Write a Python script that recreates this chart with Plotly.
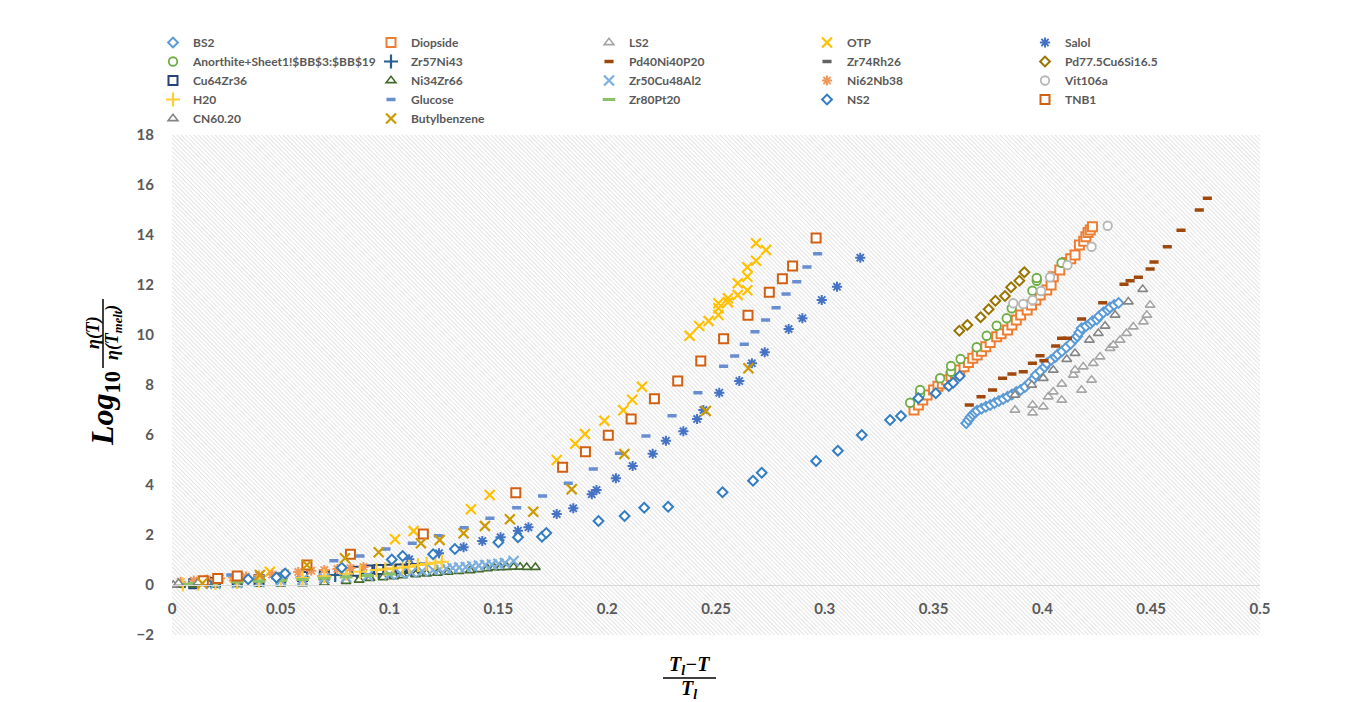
import base64
import plotly.graph_objects as go

# ---------------- data ----------------
bs2_x = [0.365, 0.366, 0.367, 0.368, 0.369, 0.370, 0.372, 0.374, 0.376, 0.378, 0.380, 0.382, 0.384, 0.386,
         0.388, 0.390, 0.392, 0.394, 0.396, 0.397, 0.399, 0.401, 0.402, 0.404, 0.406, 0.407, 0.409, 0.411,
         0.413, 0.415, 0.416, 0.417, 0.418, 0.420, 0.422, 0.423, 0.425, 0.426, 0.428, 0.430, 0.431, 0.433, 0.435]
bs2_y = [6.47, 6.6, 6.72, 6.82, 6.9, 6.97, 7.05, 7.13, 7.2, 7.28, 7.36, 7.44, 7.53, 7.62,
         7.72, 7.8, 7.92, 8.08, 8.25, 8.4, 8.55, 8.72, 8.87, 9.0, 9.12, 9.22, 9.35, 9.5,
         9.65, 9.85, 9.95, 10.1, 10.27, 10.35, 10.45, 10.55, 10.62, 10.75, 10.9, 11.0, 11.1, 11.2, 11.28]

diopside_x = [0.341, 0.343, 0.345, 0.347, 0.350, 0.352, 0.354, 0.356, 0.358, 0.360, 0.362, 0.364, 0.366, 0.368,
              0.370, 0.372, 0.374, 0.376, 0.379, 0.381, 0.384, 0.386, 0.388, 0.390, 0.393, 0.395, 0.397, 0.399,
              0.402, 0.404, 0.405, 0.408, 0.411, 0.413, 0.415, 0.417, 0.419, 0.420, 0.421, 0.422, 0.423]
diopside_y = [7.0, 7.2, 7.4, 7.6, 7.8, 7.95, 8.05, 8.2, 8.35, 8.45, 8.6, 8.73, 8.9, 9.07,
              9.2, 9.35, 9.53, 9.7, 9.93, 10.05, 10.2, 10.4, 10.6, 10.8, 11.0, 11.2, 11.4, 11.6,
              11.8, 12.0, 12.33, 12.6, 12.9, 13.05, 13.2, 13.6, 13.75, 13.93, 14.1, 14.2, 14.33]

ls2_x = [0.3874, 0.3955, 0.3955, 0.4004, 0.4027, 0.405, 0.4089, 0.4089, 0.4142, 0.418, 0.415, 0.4188,
         0.4226, 0.4234, 0.4265, 0.4311, 0.4326, 0.4357, 0.4387, 0.4418, 0.4464, 0.448, 0.4495]
ls2_y = [7.0, 6.89, 7.2, 7.13, 7.53, 7.73, 7.4, 8.04, 8.4, 7.8, 8.6, 8.73,
         8.2, 8.87, 9.13, 9.47, 9.6, 9.8, 10.07, 10.33, 10.53, 10.8, 11.2]

otp_x = [0.045, 0.1025, 0.111, 0.1374, 0.146, 0.1768, 0.1853, 0.1898, 0.1987, 0.2074, 0.2115, 0.216,
         0.2379, 0.2423, 0.2466, 0.2511, 0.2511, 0.2511, 0.2555, 0.2555, 0.26, 0.26, 0.2644, 0.2644,
         0.2644, 0.2684, 0.2684, 0.273]
otp_y = [0.53, 1.83, 2.16, 3.03, 3.6, 5.0, 5.65, 6.04, 6.57, 6.99, 7.41, 7.93,
         9.97, 10.36, 10.56, 10.8, 11.07, 11.27, 11.31, 11.47, 11.6, 12.07, 11.79, 12.33,
         12.71, 12.97, 13.67, 13.4]

salol_x = [0.109, 0.1227, 0.134, 0.1426, 0.151, 0.159, 0.1638, 0.1768, 0.1844, 0.1929, 0.1951, 0.204,
           0.2117, 0.2209, 0.227, 0.235, 0.2413, 0.2442, 0.2515, 0.2607, 0.2665, 0.2724, 0.2834, 0.2897,
           0.2986, 0.3056, 0.3163]
salol_y = [1.03, 1.27, 1.51, 1.76, 1.91, 2.17, 2.31, 2.84, 3.07, 3.63, 3.8, 4.27,
           4.76, 5.25, 5.77, 6.15, 6.64, 7.0, 7.69, 8.16, 8.87, 9.31, 10.24, 10.67,
           11.4, 11.93, 13.09]

anorthite_x = [0.3392, 0.3438, 0.3438, 0.353, 0.358, 0.358, 0.3624, 0.3698, 0.3744, 0.379, 0.3836, 0.3859,
               0.3954, 0.3974, 0.3974, 0.4088]
anorthite_y = [7.29, 7.64, 7.8, 8.27, 8.53, 8.76, 9.04, 9.51, 9.97, 10.37, 10.67, 11.07,
               11.77, 12.17, 12.28, 12.89]

zr57ni43_x = [0.03, 0.04, 0.05, 0.06, 0.07, 0.075, 0.08, 0.085, 0.09, 0.095, 0.1, 0.105, 0.11]
zr57ni43_y = [0.15, 0.2, 0.25, 0.3, 0.35, 0.4, 0.43, 0.47, 0.5, 0.53, 0.56, 0.58, 0.6]

pd40_x = [0.3664, 0.3718, 0.3771, 0.3817, 0.386, 0.3912, 0.3954, 0.3989, 0.4007, 0.4061, 0.4088, 0.4115,
          0.418, 0.4277, 0.4375, 0.4403, 0.4441, 0.4495, 0.4513, 0.4574, 0.4637, 0.4721, 0.4758]
pd40_y = [7.2, 7.53, 7.8, 8.27, 8.44, 8.53, 8.87, 9.17, 8.97, 9.56, 9.87, 9.87,
          10.64, 11.29, 12.03, 12.17, 12.31, 12.64, 12.92, 13.53, 14.19, 15.0, 15.47]

zr74rh26_x = [0.04, 0.05, 0.06, 0.07, 0.08, 0.09]
zr74rh26_y = [0.22, 0.27, 0.33, 0.38, 0.44, 0.5]

pd77_x = [0.3618, 0.3655, 0.3716, 0.3753, 0.3784, 0.3828, 0.3856, 0.3894, 0.3917]
pd77_y = [10.17, 10.4, 10.71, 11.03, 11.37, 11.56, 11.91, 12.17, 12.51]

cu64zr36_x = [0.01, 0.02, 0.03, 0.04, 0.05, 0.06, 0.07, 0.08, 0.085, 0.09, 0.095, 0.1, 0.105, 0.11, 0.115]
cu64zr36_y = [0.05, 0.1, 0.16, 0.22, 0.28, 0.34, 0.4, 0.5, 0.55, 0.6, 0.62, 0.63, 0.64, 0.66, 0.68]

ni34zr66_x = [0.004, 0.01, 0.02, 0.03, 0.04, 0.05, 0.06, 0.07, 0.08, 0.086, 0.091, 0.097, 0.102, 0.106,
              0.112, 0.117, 0.122, 0.127, 0.132, 0.137, 0.141, 0.145, 0.148, 0.151, 0.154, 0.157, 0.16,
              0.163, 0.167]
ni34zr66_y = [0.0, 0.01, 0.02, 0.03, 0.04, 0.05, 0.06, 0.08, 0.15, 0.2, 0.27, 0.3, 0.34, 0.38,
              0.42, 0.45, 0.48, 0.52, 0.55, 0.58, 0.62, 0.66, 0.7, 0.7, 0.71, 0.72, 0.72,
              0.71, 0.71]

zr50cu48al2_x = [0.02, 0.03, 0.04, 0.05, 0.06, 0.07, 0.08, 0.09, 0.1, 0.105, 0.11, 0.115, 0.12, 0.123,
                 0.126, 0.129, 0.132, 0.135, 0.138, 0.141, 0.144, 0.147, 0.15, 0.153, 0.157]
zr50cu48al2_y = [0.05, 0.08, 0.12, 0.17, 0.22, 0.27, 0.32, 0.37, 0.42, 0.46, 0.5, 0.55, 0.6, 0.62,
                 0.65, 0.68, 0.7, 0.72, 0.75, 0.78, 0.8, 0.82, 0.85, 0.88, 0.96]

ni62nb38_x = [0.004, 0.01, 0.016, 0.022, 0.028, 0.034, 0.04, 0.046, 0.052, 0.058, 0.064, 0.07, 0.076,
              0.082, 0.088]
ni62nb38_y = [0.13, 0.18, 0.22, 0.26, 0.3, 0.34, 0.38, 0.42, 0.47, 0.52, 0.57, 0.6, 0.64, 0.68, 0.72]

vit106a_x = [0.3866, 0.3912, 0.3955, 0.3994, 0.4035, 0.4115, 0.4226, 0.43]
vit106a_y = [11.27, 11.24, 11.4, 11.76, 12.31, 12.8, 13.53, 14.37]

h20_x = [0.005, 0.012, 0.02, 0.03, 0.04, 0.05, 0.06, 0.07, 0.08, 0.0864, 0.094, 0.098, 0.1017, 0.106,
         0.109, 0.113, 0.117, 0.121, 0.124]
h20_y = [0.02, 0.05, 0.08, 0.12, 0.17, 0.22, 0.28, 0.35, 0.45, 0.53, 0.6, 0.63, 0.67, 0.7,
         0.73, 0.8, 0.84, 0.89, 0.93]

glucose_x = [0.027, 0.0744, 0.0864, 0.0983, 0.1104, 0.1224, 0.1343, 0.1461, 0.1584, 0.1703, 0.1821,
             0.1936, 0.2056, 0.2178, 0.2298, 0.2417, 0.2535, 0.2586, 0.263, 0.2679, 0.2728, 0.2776,
             0.2822, 0.2871, 0.2918, 0.2967]
glucose_y = [0.4, 0.97, 1.16, 1.44, 1.67, 1.97, 2.29, 2.67, 3.09, 3.56, 4.07,
             4.64, 5.27, 5.96, 6.77, 7.69, 8.75, 9.16, 9.63, 10.13, 10.6, 11.09,
             11.64, 12.13, 12.72, 13.25]

zr80pt20_x = [0.005, 0.01, 0.02, 0.03, 0.04, 0.05, 0.06, 0.07, 0.08, 0.09, 0.1]
zr80pt20_y = [0.03, 0.06, 0.09, 0.12, 0.15, 0.18, 0.22, 0.27, 0.32, 0.38, 0.44]

ns2_x = [0.016, 0.035, 0.048, 0.052, 0.078, 0.101, 0.106, 0.120, 0.130, 0.150, 0.159, 0.170, 0.172,
         0.196, 0.208, 0.217, 0.228, 0.253, 0.267, 0.271, 0.296, 0.306, 0.317, 0.330, 0.335, 0.343,
         0.351, 0.357, 0.359, 0.362]
ns2_y = [0.08, 0.23, 0.3, 0.46, 0.69, 1.02, 1.16, 1.23, 1.44, 1.71, 1.91, 1.93, 2.08,
         2.56, 2.76, 3.09, 3.13, 3.71, 4.17, 4.49, 4.96, 5.37, 6.0, 6.6, 6.76, 7.47,
         7.67, 7.96, 8.09, 8.36]

tnb1_x = [0.0144, 0.021, 0.030, 0.062, 0.082, 0.1155, 0.158, 0.1795, 0.190, 0.2005, 0.211, 0.2217,
          0.2324, 0.243, 0.2535, 0.2647, 0.2745, 0.2805, 0.2852, 0.296]
tnb1_y = [0.17, 0.26, 0.36, 0.8, 1.23, 2.04, 3.69, 4.71, 5.33, 5.99, 6.64, 7.45,
          8.16, 8.96, 9.85, 10.79, 11.71, 12.25, 12.76, 13.88]

cn60_x = [0.0006, 0.003, 0.012, 0.3874, 0.3951, 0.4004, 0.405, 0.4112, 0.415, 0.4216, 0.4257, 0.4288,
          0.4334, 0.4395, 0.4461]
cn60_y = [0.0, 0.07, 0.09, 7.6, 8.0, 8.27, 8.6, 9.03, 9.27, 9.8, 10.07, 10.36,
          10.8, 11.33, 11.83]

butyl_x = [0.014, 0.0404, 0.062, 0.0795, 0.095, 0.1144, 0.123, 0.134, 0.1438, 0.1553, 0.166, 0.1837,
           0.2079, 0.2453, 0.2649]
butyl_y = [0.07, 0.4, 0.8, 1.07, 1.31, 1.67, 1.8, 2.07, 2.36, 2.63, 2.93, 3.83,
           5.24, 6.96, 8.67]

series_names = ["BS2", "Diopside", "LS2", "OTP", "Salol",
                "Anorthite+Sheet1!$BB$3:$BB$19", "Zr57Ni43", "Pd40Ni40P20", "Zr74Rh26", "Pd77.5Cu6Si16.5",
                "Cu64Zr36", "Ni34Zr66", "Zr50Cu48Al2", "Ni62Nb38", "Vit106a",
                "H20", "Glucose", "Zr80Pt20", "NS2", "TNB1",
                "CN60.20", "Butylbenzene"]
series_x = [bs2_x, diopside_x, ls2_x, otp_x, salol_x,
            anorthite_x, zr57ni43_x, pd40_x, zr74rh26_x, pd77_x,
            cu64zr36_x, ni34zr66_x, zr50cu48al2_x, ni62nb38_x, vit106a_x,
            h20_x, glucose_x, zr80pt20_x, ns2_x, tnb1_x,
            cn60_x, butyl_x]
series_y = [bs2_y, diopside_y, ls2_y, otp_y, salol_y,
            anorthite_y, zr57ni43_y, pd40_y, zr74rh26_y, pd77_y,
            cu64zr36_y, ni34zr66_y, zr50cu48al2_y, ni62nb38_y, vit106a_y,
            h20_y, glucose_y, zr80pt20_y, ns2_y, tnb1_y,
            cn60_y, butyl_y]

# ---------------- styles ----------------
colors = ["#5B9BD5", "#ED7D31", "#A5A5A5", "#FFC000", "#4472C4",
          "#70AD47", "#255E91", "#9E480E", "#636363", "#997300",
          "#264478", "#43682B", "#7CAFDD", "#F1975A", "#B7B7B7",
          "#FFCD33", "#698ED0", "#8CC168", "#327DC2", "#D26012",
          "#848484", "#CC9A00"]
kinds = ["diamond", "square", "triangle", "x", "star",
         "circle", "plus", "dash", "dash", "diamond",
         "square", "triangle", "x", "star", "circle",
         "plus", "dash", "longdash", "diamond", "square",
         "triangle", "x"]


def marker_for(kind, c):
    if kind == "diamond":
        return dict(symbol="diamond", size=7.5, color="white", line=dict(color=c, width=2))
    if kind == "square":
        return dict(symbol="square", size=9, color="white", line=dict(color=c, width=2))
    if kind == "triangle":
        return dict(symbol="triangle-up", size=8.5, color="white", line=dict(color=c, width=1.6))
    if kind == "circle":
        return dict(symbol="circle", size=8.5, color="white", line=dict(color=c, width=1.8))
    if kind == "x":
        return dict(symbol="x-thin-open", size=10, color=c, line=dict(color=c, width=2.2))
    if kind == "plus":
        return dict(symbol="cross-thin-open", size=10, color=c, line=dict(color=c, width=2.2))
    if kind == "star":
        return dict(symbol="asterisk-open", size=8.5, color=c, line=dict(color=c, width=2))
    if kind == "dash":
        return dict(symbol="line-ew-open", size=6.5, color=c, line=dict(color=c, width=3.5))
    if kind == "longdash":
        return dict(symbol="line-ew-open", size=9, color=c, line=dict(color=c, width=3))


fig = go.Figure()
for name, xs, ys, c, k in zip(series_names, series_x, series_y, colors, kinds):
    fig.add_trace(go.Scatter(x=xs, y=ys, mode="markers", name=name, marker=marker_for(k, c)))

# hatched plot background
svg = ('<svg xmlns="http://www.w3.org/2000/svg" width="1088" height="500">'
       '<defs><pattern id="p" width="3" height="3" patternUnits="userSpaceOnUse" '
       'patternTransform="rotate(-45)"><rect width="3" height="3" fill="#ffffff"/>'
       '<line x1="0" y1="0" x2="0" y2="3" stroke="#d2d2d2" stroke-width="1.2"/></pattern></defs>'
       '<rect width="1088" height="500" fill="url(#p)"/></svg>')
src = "data:image/svg+xml;base64," + base64.b64encode(svg.encode()).decode()

# page has an 8px body margin; figure sized so that it ends at the window edge
OFF = 8
W, H = 1343, 694
L, T = 164, 127
PW, PH = 1088, 500
R, B = W - L - PW, H - T - PH


def px(xp):  # page pixel x -> paper x
    return (xp - OFF - L) / PW


def py(yp):  # page pixel y -> paper y
    return (T + PH - (yp - OFF)) / PH


tick_font = dict(family="Lato", size=15, color="#595959", weight="bold")

fig.update_layout(
    width=W, height=H,
    margin=dict(l=L, r=R, t=T, b=B, autoexpand=False),
    paper_bgcolor="white",
    plot_bgcolor="rgba(0,0,0,0)",
    images=[dict(source=src, xref="paper", yref="paper", x=0, y=1, sizex=1, sizey=1,
                 xanchor="left", yanchor="top", sizing="stretch", layer="below")],
    xaxis=dict(range=[0, 0.5], dtick=0.05, tick0=0, showgrid=False, zeroline=False,
               showline=True, linecolor="#d9d9d9", linewidth=1,
               anchor="free", position=0.1, ticks="outside", ticklen=10, tickcolor="rgba(0,0,0,0)",
               tickfont=tick_font),
    yaxis=dict(range=[-2, 18], dtick=2, showgrid=False, zeroline=False, showline=False,
               ticks="outside", ticklen=14, tickcolor="rgba(0,0,0,0)", tickfont=tick_font),
    legend=dict(orientation="h", x=px(153), y=py(28), xanchor="left", yanchor="top",
                entrywidth=173, entrywidthmode="pixels", itemwidth=30, tracegroupgap=0,
                font=dict(family="Lato", size=12, color="#595959", weight="bold"),
                bgcolor="rgba(0,0,0,0)"),
    showlegend=True,
)

ser = dict(family="Liberation Serif", color="black")
ann = [
    # y-axis title: Log10 eta(T)/eta(T_melt)
    dict(text="<b><i>Log</i><sub>10</sub></b>", x=px(104), y=py(409), textangle=-90,
         font=dict(size=32, **ser)),
    dict(text="<b><i>η(T)</i></b>", x=px(93), y=py(333), textangle=-90, font=dict(size=18, **ser)),
    dict(text="<b><i>η(T<sub>melt</sub>)</i></b>", x=px(113), y=py(333), textangle=-90,
         font=dict(size=18, **ser)),
    # x-axis title: (T_l - T)/T_l
    dict(text="<b><i>T<sub>l</sub>−T</i></b>", x=px(689), y=py(665), font=dict(size=20, **ser)),
    dict(text="<b><i>T<sub>l</sub></i></b>", x=px(689), y=py(689), font=dict(size=20, **ser)),
]
for a in ann:
    a.update(xref="paper", yref="paper", showarrow=False, xanchor="center", yanchor="middle")
fig.update_layout(annotations=ann)

fig.add_shape(type="line", xref="paper", yref="paper", x0=px(663), x1=px(716), y0=py(678), y1=py(678),
              line=dict(color="black", width=1.5))
fig.add_shape(type="line", xref="paper", yref="paper", x0=px(103), x1=px(103), y0=py(299), y1=py(368),
              line=dict(color="black", width=1.5))
fig.add_shape(type="line", xref="paper", yref="paper", x0=px(1348), x1=px(1348), y0=py(8), y1=py(702),
              line=dict(color="#bfbfbf", width=1.5))

fig.write_html("out.html")
